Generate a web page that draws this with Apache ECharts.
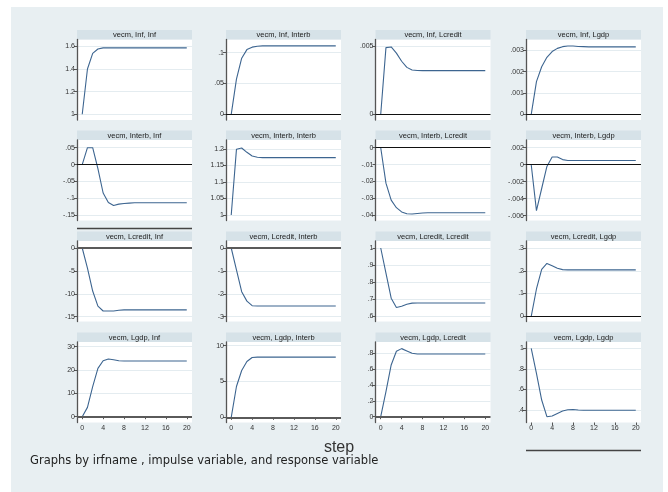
<!DOCTYPE html>
<html><head><meta charset="utf-8">
<script src="https://cdn.jsdelivr.net/npm/echarts@6/dist/echarts.min.js"></script>
<style>html,body{margin:0;padding:0;background:#fff}#c{width:668px;height:492px}</style>
</head><body><div id="c"></div>
<script>
// ---- data ----
const steps = [0,1,2,3,4,5,6,7,8,9,10,11,12,13,14,15,16,17,18,19,20];
const variables = ['Inf', 'Interb', 'Lcredit', 'Lgdp'];
const xTicks = [0, 4, 8, 12, 16, 20];

const irf_Inf_Inf         = [1.000,1.400,1.538,1.576,1.586,1.587,1.586,1.586,1.586,1.586,1.586,1.586,1.586,1.586,1.586,1.586,1.586,1.586,1.586,1.586,1.586];
const irf_Inf_Interb      = [0,0.057,0.091,0.105,0.109,0.1105,0.111,0.111,0.111,0.111,0.111,0.111,0.111,0.111,0.111,0.111,0.111,0.111,0.111,0.111,0.111];
const irf_Inf_Lcredit     = [0,0.0049,0.00495,0.0045,0.0039,0.00345,0.00326,0.00322,0.00321,0.00321,0.00321,0.00321,0.00321,0.00321,0.00321,0.00321,0.00321,0.00321,0.00321,0.00321,0.00321];
const irf_Inf_Lgdp        = [0,0.00153,0.00223,0.00267,0.00294,0.00309,0.00317,0.0032,0.0032,0.00318,0.00317,0.00316,0.00316,0.00316,0.00316,0.00316,0.00316,0.00316,0.00316,0.00316,0.00316];

const irf_Interb_Inf      = [0,0.05,0.05,-0.012,-0.084,-0.112,-0.121,-0.117,-0.115,-0.114,-0.113,-0.113,-0.113,-0.113,-0.113,-0.113,-0.113,-0.113,-0.113,-0.113,-0.113];
const irf_Interb_Interb   = [1.000,1.199,1.203,1.19,1.179,1.175,1.174,1.174,1.174,1.174,1.174,1.174,1.174,1.174,1.174,1.174,1.174,1.174,1.174,1.174,1.174];
const irf_Interb_Lcredit  = [0,-0.021,-0.031,-0.0355,-0.038,-0.0391,-0.0392,-0.0389,-0.0386,-0.0385,-0.0385,-0.0385,-0.0385,-0.0385,-0.0385,-0.0385,-0.0385,-0.0385,-0.0385,-0.0385,-0.0385];
const irf_Interb_Lgdp     = [0,-0.0054,-0.0028,-0.0002,0.0009,0.0009,0.0006,0.0005,0.0005,0.0005,0.0005,0.0005,0.0005,0.0005,0.0005,0.0005,0.0005,0.0005,0.0005,0.0005,0.0005];

const irf_Lcredit_Inf     = [0,-4.4,-9.4,-12.7,-13.75,-13.75,-13.75,-13.6,-13.5,-13.5,-13.5,-13.5,-13.5,-13.5,-13.5,-13.5,-13.5,-13.5,-13.5,-13.5,-13.5];
const irf_Lcredit_Interb  = [0,-0.96,-1.91,-2.32,-2.52,-2.53,-2.53,-2.53,-2.53,-2.53,-2.53,-2.53,-2.53,-2.53,-2.53,-2.53,-2.53,-2.53,-2.53,-2.53,-2.53];
const irf_Lcredit_Lcredit = [1.000,0.853,0.706,0.651,0.659,0.671,0.677,0.678,0.678,0.678,0.678,0.678,0.678,0.678,0.678,0.678,0.678,0.678,0.678,0.678,0.678];
const irf_Lcredit_Lgdp    = [0,0.12,0.206,0.232,0.222,0.211,0.205,0.204,0.204,0.204,0.204,0.204,0.204,0.204,0.204,0.204,0.204,0.204,0.204,0.204,0.204];

const irf_Lgdp_Inf        = [0,4.0,12.9,20.7,24.0,24.7,24.4,24.0,23.9,23.9,23.9,23.9,23.9,23.9,23.9,23.9,23.9,23.9,23.9,23.9,23.9];
const irf_Lgdp_Interb     = [0,4.3,6.54,7.8,8.36,8.41,8.41,8.41,8.41,8.41,8.41,8.41,8.41,8.41,8.41,8.41,8.41,8.41,8.41,8.41,8.41];
const irf_Lgdp_Lcredit    = [0,0.316,0.653,0.825,0.859,0.83,0.80,0.792,0.792,0.792,0.792,0.792,0.792,0.792,0.792,0.792,0.792,0.792,0.792,0.792,0.792];
const irf_Lgdp_Lgdp       = [1.000,0.757,0.497,0.335,0.342,0.367,0.39,0.402,0.405,0.4,0.397,0.397,0.397,0.397,0.397,0.397,0.397,0.397,0.397,0.397,0.397];

const yTickLabels = [
  [[1,1.2,1.4,1.6],[0,0.05,0.1],[0,0.005],[0,0.001,0.002,0.003]],
  [[-0.15,-0.1,-0.05,0,0.05],[1,1.05,1.1,1.15,1.2],[-0.04,-0.03,-0.02,-0.01,0],[-0.006,-0.004,-0.002,0,0.002]],
  [[-15,-10,-5,0],[-3,-2,-1,0],[0.6,0.7,0.8,0.9,1],[0,0.1,0.2,0.3]],
  [[0,10,20,30],[0,5,10],[0,0.2,0.4,0.6,0.8],[0.4,0.6,0.8,1]]
];

const irfs = [
  [irf_Inf_Inf, irf_Inf_Interb, irf_Inf_Lcredit, irf_Inf_Lgdp],
  [irf_Interb_Inf, irf_Interb_Interb, irf_Interb_Lcredit, irf_Interb_Lgdp],
  [irf_Lcredit_Inf, irf_Lcredit_Interb, irf_Lcredit_Lcredit, irf_Lcredit_Lgdp],
  [irf_Lgdp_Inf, irf_Lgdp_Interb, irf_Lgdp_Lcredit, irf_Lgdp_Lgdp]
];

// ---- axis ranges (Stata plot-region padding) ----
const yRanges = [
  [[0.9497,1.66],[-0.00925,0.1214],[-0.00042,0.0055],[-0.000267,0.003506]],
  [[-0.1654,0.0728],[0.9833,1.2273],[-0.04308,0.00456],[-0.006565,0.002906]],
  [[-16.048,1.528],[-3.2096,0.3057],[0.5695,1.041],[-0.0228,0.3307]],
  [[-2.486,32.01],[-0.726,10.517],[-0.0732,0.9426],[0.2784,1.0613]]
];

// ---- layout / style ----
const colLeft = [77, 226, 375.5, 526];
const colW = 115;
const rowTop = [30, 130.5, 231.5, 332.5];
const stripH = 9.5, plotH = 80.5;
const FONT = 'Liberation Sans, Arial, sans-serif';
const BG = '#e8eff2', STRIP = '#d6e2e8', GRIDC = '#e4ecf0', LINE = '#3d6590';

function fmt(v) {
  let s = String(v);
  s = s.replace(/^0\./, '.').replace(/^-0\./, '-.');
  return s;
}

const grids = [], xAxes = [], yAxes = [], series = [];
const graphics = [
  {type:'rect', shape:{x:11, y:7, width:652, height:490}, style:{fill:BG}, z:-10, silent:true}
];

for (let r = 0; r < 4; r++) {
  for (let c = 0; c < 4; c++) {
    const i = r * 4 + c;
    const left = colLeft[c], top = rowTop[r] + stripH;
    grids.push({left:left, top:top, width:colW, height:plotH, show:true, backgroundColor:'#fff', borderWidth:0, containLabel:false});
    graphics.push({type:'rect', shape:{x:left, y:rowTop[r], width:colW, height:stripH}, style:{fill:STRIP}, silent:true});
    graphics.push({type:'text', x:left + colW/2, y:rowTop[r] + stripH/2 + 0.5,
      style:{text:'vecm, ' + variables[r] + ', ' + variables[c], fill:'#1a1a1a', font:'7.5px ' + FONT, align:'center', verticalAlign:'middle'}, silent:true});
    const bottom = r === 3;
    xAxes.push({type:'value', gridIndex:i, min:-1, max:21,
      axisLine:{show:false},
      axisTick:{show:bottom, customValues:xTicks, length:2.5, lineStyle:{color:'#555', width:1}},
      axisLabel:{show:bottom, customValues:xTicks, fontSize:7, color:'#333', fontFamily:FONT, margin:2.5},
      splitLine:{show:false}});
    const yr = yRanges[r][c];
    const yt = yTickLabels[r][c];
    yAxes.push({type:'value', gridIndex:i, min:yr[0], max:yr[1],
      axisLine:{show:true, onZero:false, lineStyle:{color:'#555', width:1.3}},
      axisTick:{show:true, customValues:yt, length:3, lineStyle:{color:'#555', width:1}},
      axisLabel:{show:true, customValues:yt, fontSize:7, color:'#333', fontFamily:FONT, margin:2, formatter:fmt},
      splitLine:{show:true, lineStyle:{color:GRIDC, width:1}}});
    const hasZero = yr[0] < 0 && yr[1] > 0;
    const heavy = (r === 2 && c < 2) || (r === 3 && c < 3);
    const s = {type:'line', xAxisIndex:i, yAxisIndex:i, showSymbol:false, symbol:'none',
      data: steps.map((x, k) => [x, irfs[r][c][k]]),
      lineStyle:{color:LINE, width:1.1}, animation:false, z:3};
    if (hasZero) {
      s.markLine = {silent:true, symbol:['none','none'], label:{show:false}, animation:false,
        lineStyle:{type:'solid', color: heavy ? '#5a5a5a' : '#111', width: heavy ? 1.8 : 1.1},
        data:[{yAxis:0}]};
    }
    series.push(s);
  }
}

graphics.push({type:'line', shape:{x1:77, y1:228.5, x2:192, y2:228.5}, style:{stroke:'#444', lineWidth:1.5}, silent:true});
graphics.push({type:'line', shape:{x1:526, y1:450.5, x2:641, y2:450.5}, style:{stroke:'#444', lineWidth:1.5}, silent:true});
graphics.push({type:'text', x:339, y:448, style:{text:'step', fill:'#333', font:'16px ' + FONT, align:'center', verticalAlign:'middle'}, silent:true});
graphics.push({type:'text', x:30, y:461, style:{text:'Graphs by irfname , impulse variable, and response variable', fill:'#222', font:'11.5px DejaVu Sans, ' + FONT, align:'left', verticalAlign:'middle'}, silent:true});

const chart = echarts.init(document.getElementById('c'), null, {renderer:'canvas'});
chart.setOption({
  animation:false,
  backgroundColor:'#fff',
  grid:grids, xAxis:xAxes, yAxis:yAxes, series:series, graphic:graphics
});
</script></body></html>
